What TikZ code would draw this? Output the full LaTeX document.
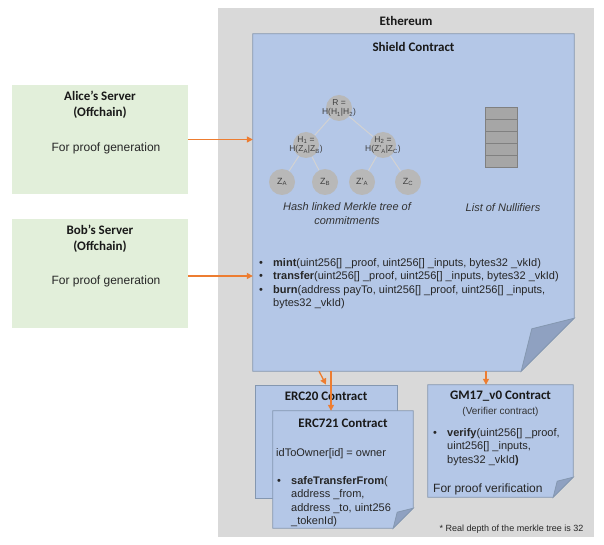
\documentclass[tikz,border=0pt]{standalone}
\usepackage{fontspec}
\setmainfont{Liberation Sans}
\newfontfamily\titlefont{Carlito}
\usetikzlibrary{arrows.meta,positioning,calc}

\definecolor{ethgray}{HTML}{D9D9D9}
\definecolor{contractblue}{HTML}{B4C7E7}
\definecolor{contractedge}{HTML}{8497B0}
\definecolor{flapblue}{HTML}{8FA1C1}
\definecolor{servergreen}{HTML}{E2EFDA}
\definecolor{floworange}{HTML}{ED7D31}
\definecolor{hashgray}{HTML}{B8B8B8}
\definecolor{edgegray}{HTML}{D2D2D2}
\definecolor{textgray}{HTML}{404040}
\definecolor{cellgray}{HTML}{A6A6A6}
\definecolor{celledge}{HTML}{808080}

\tikzset{
  chain/.style={fill=ethgray, minimum width=376, minimum height=529, inner sep=0},
  server/.style={fill=servergreen, minimum width=176, minimum height=109, inner sep=0},
  box/.style={inner sep=0},
  contract/.style={fill=contractblue, draw=contractedge, line width=0.8pt},
  flap/.style={fill=flapblue, draw=contractedge, line width=0.8pt},
  titletext/.style={font={\titlefont\fontsize{13}{16}\selectfont\bfseries}, text=black!90, inner sep=0, align=center},
  bodytext/.style={font={\fontsize{12}{14}\selectfont}, text=black!85, inner sep=0},
  listtext/.style={font={\fontsize{11}{13.3}\selectfont}, text=black!85, inner sep=0},
  notetext/.style={font={\fontsize{10}{12}\selectfont}, text=black!80, inner sep=0},
  captext/.style={font={\fontsize{11}{13.3}\selectfont\itshape}, text=black!80, inner sep=0, align=center},
  hash/.style={circle, fill=hashgray, minimum size=26, inner sep=0},
  hashtext/.style={font={\fontsize{8.5}{9.5}\selectfont}, text=textgray, inner sep=0, align=center},
  treeedge/.style={draw=edgegray, line width=1pt},
  nullcell/.style={fill=cellgray, draw=celledge, line width=0.6pt},
  footnote/.style={font={\fontsize{9}{11}\selectfont}, text=black!85, inner sep=0},
  flow/.style={draw=floworange, line width=1.3pt, -{Triangle[length=6pt,width=6pt]}}
}

% bullet and hanging indent for the function lists
\newcommand{\listdot}{\makebox[14pt][l]{\textbullet}}
\newcommand{\listpad}{\hspace*{14pt}}

% box with a folded lower right corner: node name, fold size
\newcommand{\foldbox}[2]{%
  \filldraw[contract] (#1.north west) -- (#1.north east)
    -- ([yshift=#2pt]#1.south east) -- ([xshift=-#2pt]#1.south east)
    -- (#1.south west) -- cycle;
  \filldraw[flap] ([yshift=#2pt]#1.south east)
    -- ([shift={(-0.8*#2pt,0.8*#2pt)}]#1.south east)
    -- ([xshift=-#2pt]#1.south east) -- cycle;}

\begin{document}
\begin{tikzpicture}[x=1pt,y=-1pt]
  \useasboundingbox (0,0) rectangle (604,545);

  % Draw the Ethereum area
  \node[chain] (ethereum) at (406,272.5) {};
  \node[titletext] (ethtitle) at ([yshift=-13pt]ethereum.north) {Ethereum};

  % Draw the offchain servers
  \node[server] (alice) at (100,139.5) {};
  \node[titletext] (alicetitle) at ([yshift=-20pt]alice.north) {Alice’s Server\\(Offchain)};
  \node[bodytext] (alicetext) at ([xshift=6pt,yshift=-64pt]alice.north) {For proof generation};
  \node[server] (bob) at (100,273.5) {};
  \node[titletext] (bobtitle) at ([yshift=-20pt]bob.north) {Bob’s Server\\(Offchain)};
  \node[bodytext] (bobtext) at ([xshift=6pt,yshift=-63pt]bob.north) {For proof generation};
  \coordinate (bobout) at ([yshift=-2.5pt]bob.east);

  % Draw the shield contract
  \node[box, minimum width=321, minimum height=337] (shield) at (413.5,202.5) {};
  \foldbox{shield}{53}
  \node[titletext] (shieldtitle) at ([yshift=-13pt]shield.north) {Shield Contract};

  % Merkle tree of commitments
  \node[hash, label={[hashtext]center:R =\\H(H\textsubscript{1}|H\textsubscript{2})}] (root) at (339,108) {};
  \node[hash, label={[hashtext]center:H\textsubscript{1} =\\H(Z\textsubscript{A}|Z\textsubscript{B})}] (h1) at (306,145) {};
  \node[hash, label={[hashtext]center:H\textsubscript{2} =\\H(Z’\textsubscript{A}|Z\textsubscript{C})}] (h2) at (383,145) {};
  \foreach \name/\x/\txt in {za/282/Z\textsubscript{A}, zb/325/Z\textsubscript{B}, zpa/362/Z’\textsubscript{A}, zc/408/Z\textsubscript{C}}
    \node[hash, label={[hashtext, font={\fontsize{9}{10}\selectfont}]center:\txt}] (\name) at (\x,182) {};
  \draw[treeedge] (root) -- (h1);
  \draw[treeedge] (root) -- (h2);
  \draw[treeedge] (h1) -- (za);
  \draw[treeedge] (h1) -- (zb);
  \draw[treeedge] (h2) -- (zpa);
  \draw[treeedge] (h2) -- (zc);
  \node[captext] (treecap) at (347,213.5) {Hash linked Merkle tree of\\commitments};

  % List of nullifiers
  \foreach \i in {0,...,4}
    \draw[nullcell] (485,107+12*\i) rectangle ++(32,12);
  \node[captext] (nullcap) at (503,208) {List of Nullifiers};

  % Shield functions
  \node[listtext, anchor=base west] (shieldfns) at (259,266.5) {\begin{tabular}[t]{@{}l@{}}
    \listdot\textbf{mint}(uint256[] \_proof, uint256[] \_inputs, bytes32 \_vkId)\\
    \listdot\textbf{transfer}(uint256[] \_proof, uint256[] \_inputs, bytes32 \_vkId)\\
    \listdot\textbf{burn}(address payTo, uint256[] \_proof, uint256[] \_inputs,\\
    \listpad bytes32 \_vkId)
  \end{tabular}};

  % Token contracts
  \node[box, fill=contractblue, draw=contractedge, line width=0.8pt, minimum width=142, minimum height=113] (erc20) at (326,441.5) {};
  \node[titletext] (erc20title) at ([yshift=-12pt]erc20.north) {ERC20 Contract};
  \node[box, minimum width=140, minimum height=117] (erc721) at (343,469.5) {};
  \foldbox{erc721}{20}
  \node[titletext] (erc721title) at ([yshift=-12pt]erc721.north) {ERC721 Contract};
  \node[listtext, anchor=base west] (owner) at (276,456.5) {idToOwner[id] = owner};
  \node[listtext, anchor=base west] (erc721fns) at (277,484.5) {\begin{tabular}[t]{@{}l@{}}
    \listdot\textbf{safeTransferFrom}(\\
    \listpad address \_from,\\
    \listpad address \_to, uint256\\
    \listpad \_tokenId)
  \end{tabular}};

  % Verifier contract
  \node[box, minimum width=145, minimum height=112] (gm17) at (500.5,441) {};
  \foldbox{gm17}{20}
  \node[titletext] (gm17title) at ([yshift=-11pt]gm17.north) {GM17\_v0 Contract};
  \node[notetext] (gm17role) at ([yshift=-27pt]gm17.north) {(Verifier contract)};
  \node[listtext, anchor=base west] (gm17fns) at (433,436.5) {\begin{tabular}[t]{@{}l@{}}
    \listdot\textbf{verify}(uint256[] \_proof,\\
    \listpad uint256[] \_inputs,\\
    \listpad bytes32 \_vkId\textbf{)}
  \end{tabular}};
  \node[bodytext, anchor=base west] (gm17use) at (433,492) {For proof verification};

  \node[footnote] (depthnote) at (511.5,529) {* Real depth of the merkle tree is 32};

  % Arrows
  \draw[flow] (alice.east) -- (alice.east -| shield.west);
  \draw[flow] (bobout) -- (bobout -| shield.west);
  \draw[flow] ($(erc20.north |- shield.south)+(-7,0)$) -- (erc20.north);
  \coordinate (nftin) at ([xshift=-12pt]erc721.north);
  \draw[flow] (nftin |- shield.south) -- (nftin);
  \coordinate (verifyin) at ([xshift=-14.5pt]gm17.north);
  \draw[flow] (verifyin |- shield.south) -- (verifyin);
\end{tikzpicture}
\end{document}
